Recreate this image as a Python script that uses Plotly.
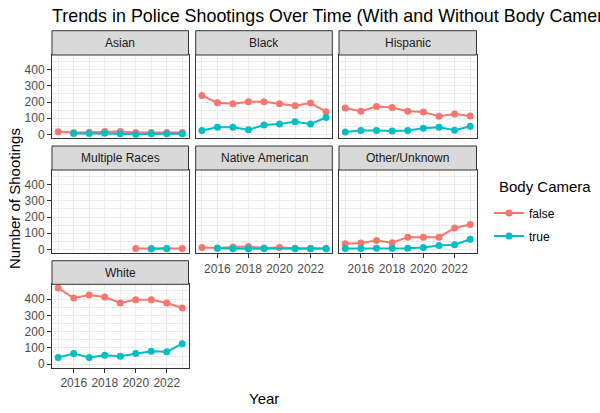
import plotly.graph_objects as go

years = list(range(2015, 2024))
panels = ["Asian", "Black", "Hispanic", "Multiple Races", "Native American", "Other/Unknown", "White"]

asian_false = [17, 12, 14, 18, 18, 13, 12, 12, 12]
asian_true = [None, 6, 6, 7, 5, 1, 5, 5, 5]
black_false = [240, 196, 189, 202, 202, 189, 177, 194, 141]
black_true = [25, 44, 44, 29, 59, 65, 78, 65, 105]
hispanic_false = [164, 143, 173, 166, 143, 139, 112, 126, 114]
hispanic_true = [15, 25, 25, 21, 25, 38, 44, 27, 51]
multi_false = [None, None, None, None, None, 6, 5, 5, 6]
multi_true = [None, None, None, None, None, None, 5, 6, None]
native_false = [12, 10, 15, 18, 10, 12, 8, 8, 8]
native_true = [None, 8, 5, 5, 6, None, 5, 5, 5]
other_false = [36, 40, 55, 42, 76, 76, 76, 133, 154]
other_true = [6, 6, 8, 8, 8, 13, 25, 29, 63]
white_false = [467, 406, 424, 412, 376, 396, 396, 376, 345]
white_true = [41, 65, 41, 55, 49, 65, 79, 77, 126]

series = [
    (asian_false, asian_true),
    (black_false, black_true),
    (hispanic_false, hispanic_true),
    (multi_false, multi_true),
    (native_false, native_true),
    (other_false, other_true),
    (white_false, white_true),
]

y_ticks = [0, 100, 200, 300, 400]
x_ticks = [2016, 2018, 2020, 2022]

W, H = 600, 413
col_px = [(52, 188.5), (195.7, 332.3), (339, 476.5)]
row_px = [(55, 138.3), (170, 253.3), (284.3, 368)]
strip_px = [(30.7, 55), (146, 170), (260.7, 284.3)]
pos = [(0, 0), (0, 1), (0, 2), (1, 0), (1, 1), (1, 2), (2, 0)]
bottom_panels = {4, 5, 6}
left_panels = {0, 3, 6}

RED = "#F8766D"
TEAL = "#00BFC4"
FONT = "Liberation Sans, Arial, sans-serif"

fig = go.Figure()
layout_axes = {}
shapes = []
annotations = []

for i, name in enumerate(panels):
    r, c = pos[i]
    k = "" if i == 0 else str(i + 1)
    fv, tv = series[i]
    for vals, lab, col in [(fv, "false", RED), (tv, "true", TEAL)]:
        xs = [y for y, v in zip(years, vals) if v is not None]
        ys = [v for v in vals if v is not None]
        fig.add_trace(go.Scatter(
            x=xs, y=ys, mode="lines+markers", name=lab,
            line=dict(color=col, width=2), marker=dict(color=col, size=7),
            xaxis="x" + k, yaxis="y" + k, showlegend=(i == 0), legendgroup=lab,
        ))
    x0, x1 = col_px[c]
    y0, y1 = row_px[r]
    show_x = i in bottom_panels
    show_y = i in left_panels
    layout_axes["xaxis" + k] = dict(
        domain=[x0 / W, x1 / W], anchor="y" + k, range=[2014.6, 2023.4], automargin=False,
        tickvals=x_ticks, showticklabels=show_x, ticks="outside" if show_x else "",
        ticklen=4, tickcolor="#333333", tickfont=dict(size=12, color="#4D4D4D", family=FONT),
        showgrid=True, gridcolor="#EBEBEB", gridwidth=1,
        minor=dict(tickvals=[2015, 2017, 2019, 2021, 2023], showgrid=True, gridcolor="#EBEBEB", gridwidth=1),
        showline=True, mirror=True, linecolor="#333333", linewidth=1, zeroline=False,
    )
    layout_axes["yaxis" + k] = dict(
        domain=[1 - y1 / H, 1 - y0 / H], anchor="x" + k, range=[-23.4, 490.4], automargin=False,
        tickvals=y_ticks, showticklabels=show_y, ticks="outside" if show_y else "",
        ticklen=4, tickcolor="#333333", tickfont=dict(size=12, color="#4D4D4D", family=FONT),
        showgrid=True, gridcolor="#EBEBEB", gridwidth=1,
        minor=dict(tickvals=[50, 150, 250, 350, 450], showgrid=True, gridcolor="#EBEBEB", gridwidth=1),
        showline=True, mirror=True, linecolor="#333333", linewidth=1, zeroline=False,
    )
    s0, s1 = strip_px[r]
    shapes.append(dict(type="rect", xref="paper", yref="paper",
                       x0=x0 / W, x1=x1 / W, y0=1 - s1 / H, y1=1 - s0 / H,
                       fillcolor="#D9D9D9", line=dict(color="#333333", width=1), layer="above"))
    annotations.append(dict(text=name, xref="paper", yref="paper",
                            x=(x0 + x1) / 2 / W, y=1 - (s0 + s1) / 2 / H,
                            showarrow=False, xanchor="center", yanchor="middle",
                            font=dict(size=12, color="#1A1A1A", family=FONT)))

annotations.append(dict(text="Number of Shootings", xref="paper", yref="paper",
                        x=15 / W, y=1 - 199 / H, textangle=-90, showarrow=False,
                        xanchor="center", yanchor="middle",
                        font=dict(size=15, color="black", family=FONT)))
annotations.append(dict(text="Year", xref="paper", yref="paper",
                        x=264 / W, y=1 - 398 / H, showarrow=False,
                        xanchor="center", yanchor="middle",
                        font=dict(size=15, color="black", family=FONT)))
annotations.append(dict(text="Body Camera", xref="paper", yref="paper",
                        x=497 / W, y=1 - 186.5 / H, showarrow=False,
                        xanchor="left", yanchor="middle",
                        font=dict(size=15, color="black", family=FONT)))

fig.update_layout(
    width=W, height=H, margin=dict(l=0, r=0, t=0, b=0, autoexpand=False),
    paper_bgcolor="white", plot_bgcolor="white",
    title=dict(text="Trends in Police Shootings Over Time (With and Without Body Camera)",
               x=52 / W, xanchor="left", y=1 - 16 / H, yanchor="middle",
               font=dict(size=17.9, color="black", family=FONT)),
    legend=dict(x=489 / W, y=1 - 198.5 / H, xanchor="left", yanchor="top",
                font=dict(size=12, color="black", family=FONT), tracegroupgap=4,
                itemwidth=30),
    shapes=shapes, annotations=annotations,
    **layout_axes,
)

fig.write_html("out.html", config={"displayModeBar": False},
               post_script="document.body.style.margin='0';document.body.style.overflow='hidden';")
